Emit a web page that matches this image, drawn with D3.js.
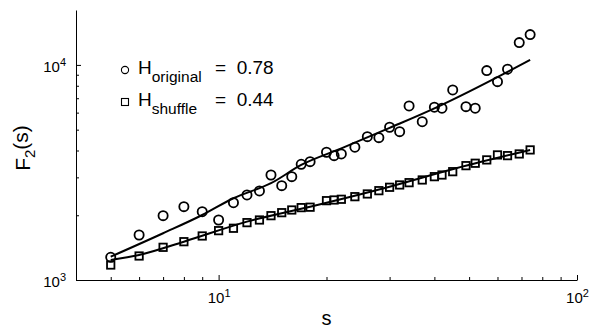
<!DOCTYPE html>
<html>
<head>
<meta charset="utf-8">
<script src="https://cdn.jsdelivr.net/npm/d3@7"></script>
<style>
  body { margin: 0; background: #fff; }
  text { font-family: "Liberation Sans", Arial, sans-serif; fill: #000; }
</style>
</head>
<body>
<div id="chart"></div>
<script>
// scale s (window sizes)
var sValues = [5, 6, 7, 8, 9, 10, 11, 12, 13, 14, 15, 16, 17, 18, 20, 21, 22, 24, 26, 28,
    30, 32, 34, 37, 40, 42, 45, 49, 52, 56, 60, 64, 69, 74];

// F2(s), original series (circles)
var original = [1275, 1619, 1991, 2193, 2078, 1901, 2288, 2485, 2594, 3077, 2746, 3023, 3452, 3550,
    3926, 3786, 3855, 4143, 4640, 4590, 5130, 4895, 6446, 5445, 6357, 6289, 7650, 6398, 6289,
    9408, 8361, 9550, 12696, 13833];

// F2(s), shuffled series (squares)
var shuffled = [1174, 1293, 1419, 1507, 1602, 1696, 1740, 1848, 1901, 1991, 2056, 2116, 2170, 2180,
    2338, 2355, 2373, 2440, 2512, 2602, 2698, 2766, 2835, 2918, 3023, 3077, 3189, 3401, 3490,
    3617, 3815, 3786, 3855, 4025];

// fitted curves
var fitOrigS = [5, 7, 9, 11, 14, 17, 22, 30, 41, 63, 74];
var fitOrigF = [1283, 1649, 2005, 2399, 2818, 3426, 4090, 5093, 6398, 9150, 10550];
var fitShufS = [5, 6, 8, 12, 18, 30, 46, 74];
var fitShufF = [1239, 1307, 1507, 1868, 2192, 2716, 3307, 4025];

var legendRows = [
    { sym: 'circle', name: 'original', value: '0.78' },
    { sym: 'square', name: 'shuffle', value: '0.44' }
];

var xMajor = [10, 100];
var xMinor = [5, 6, 7, 8, 9, 20, 30, 40, 50, 60, 70, 80, 90];
var yMajor = [1000, 10000];
var yMinor = [2000, 3000, 4000, 5000, 6000, 7000, 8000, 9000];

var width = 590, height = 330;
var margin = { top: 10, right: 13, bottom: 50, left: 76 };

var svg = d3.select('#chart')
    .append('svg')
    .attr('width', width)
    .attr('height', height);

var x = d3.scaleLog()
    .domain([4, 100])
    .range([margin.left, width - margin.right]);

var y = d3.scaleLog()
    .domain([1000, 18000])
    .range([height - margin.bottom, margin.top]);

function sup(sel, d) {
    var e = Math.round(Math.log10(d));
    sel.text(null);
    sel.append('tspan').text('10');
    sel.append('tspan').attr('dy', '-0.55em').attr('font-size', '11px').text(e);
}

// axes
var xAxis = svg.append('g')
    .attr('transform', 'translate(0,' + (height - margin.bottom) + ')')
    .call(d3.axisBottom(x).tickValues(xMajor).tickSizeInner(-5).tickSizeOuter(0).tickPadding(8));
xAxis.selectAll('.tick text')
    .attr('font-size', '15px')
    .attr('dy', '1em')
    .each(function (d) { sup(d3.select(this), d); });

svg.append('g')
    .attr('transform', 'translate(0,' + (height - margin.bottom) + ')')
    .call(d3.axisBottom(x).tickValues(xMinor).tickSize(-3).tickFormat(''))
    .select('.domain').remove();

var yAxis = svg.append('g')
    .attr('transform', 'translate(' + margin.left + ',0)')
    .call(d3.axisLeft(y).tickValues(yMajor).tickSizeInner(-5).tickSizeOuter(0).tickPadding(10));
yAxis.selectAll('.tick text')
    .attr('font-size', '15px')
    .attr('dy', '0.45em')
    .each(function (d) { sup(d3.select(this), d); });

svg.append('g')
    .attr('transform', 'translate(' + margin.left + ',0)')
    .call(d3.axisLeft(y).tickValues(yMinor).tickSize(-3).tickFormat(''))
    .select('.domain').remove();

svg.selectAll('.domain, .tick line').attr('stroke', '#000').attr('stroke-width', 1);

// axis labels
svg.append('text')
    .attr('x', (margin.left + width - margin.right) / 2)
    .attr('y', 325)
    .attr('text-anchor', 'middle')
    .attr('font-size', '20px')
    .text('s');

var yl = svg.append('text')
    .attr('transform', 'translate(30,' + 148 + ') rotate(-90)')
    .attr('text-anchor', 'middle')
    .attr('font-size', '21px');
yl.append('tspan').text('F');
yl.append('tspan').attr('dy', '0.3em').attr('font-size', '15px').text('2');
yl.append('tspan').attr('dy', '-0.3em').text('(s)');

// fit lines
var line = d3.line()
    .x(function (d) { return x(d[0]); })
    .y(function (d) { return y(d[1]); })
    .curve(d3.curveMonotoneX);

svg.append('path')
    .datum(d3.zip(fitOrigS, fitOrigF))
    .attr('d', line)
    .attr('fill', 'none')
    .attr('stroke', '#000')
    .attr('stroke-width', 2);

svg.append('path')
    .datum(d3.zip(fitShufS, fitShufF))
    .attr('d', line)
    .attr('fill', 'none')
    .attr('stroke', '#000')
    .attr('stroke-width', 2);

// markers
svg.selectAll('.circ')
    .data(d3.zip(sValues, original))
    .enter()
    .append('circle')
    .attr('class', 'circ')
    .attr('cx', function (d) { return x(d[0]); })
    .attr('cy', function (d) { return y(d[1]); })
    .attr('r', 4.6)
    .attr('fill', 'none')
    .attr('stroke', '#000')
    .attr('stroke-width', 1.8);

var sq = 7.4;
svg.selectAll('.sq')
    .data(d3.zip(sValues, shuffled))
    .enter()
    .append('rect')
    .attr('class', 'sq')
    .attr('x', function (d) { return x(d[0]) - sq / 2; })
    .attr('y', function (d) { return y(d[1]) - sq / 2; })
    .attr('width', sq)
    .attr('height', sq)
    .attr('fill', 'none')
    .attr('stroke', '#000')
    .attr('stroke-width', 1.8);

// legend
var leg = svg.selectAll('.leg')
    .data(legendRows)
    .enter()
    .append('g')
    .attr('class', 'leg')
    .attr('transform', function (d, i) { return 'translate(0,' + (i * 32) + ')'; });

leg.filter(function (d) { return d.sym === 'circle'; })
    .append('circle')
    .attr('cx', 125).attr('cy', 70).attr('r', 3.6)
    .attr('fill', 'none').attr('stroke', '#000').attr('stroke-width', 1.1);

leg.filter(function (d) { return d.sym === 'square'; })
    .append('rect')
    .attr('x', 121.5).attr('y', 66.5).attr('width', 7).attr('height', 7)
    .attr('fill', 'none').attr('stroke', '#000').attr('stroke-width', 1.1);

var lt = leg.append('text')
    .attr('x', 138)
    .attr('y', 73.5)
    .attr('font-size', '19px');
lt.append('tspan').text('H');
lt.append('tspan').attr('dy', '8').attr('font-size', '15.5px').text(function (d) { return d.name; });

leg.append('text')
    .attr('x', 215)
    .attr('y', 73.5)
    .attr('font-size', '19px')
    .style('white-space', 'pre')
    .text(function (d) { return '=  ' + d.value; });
</script>
</body>
</html>
